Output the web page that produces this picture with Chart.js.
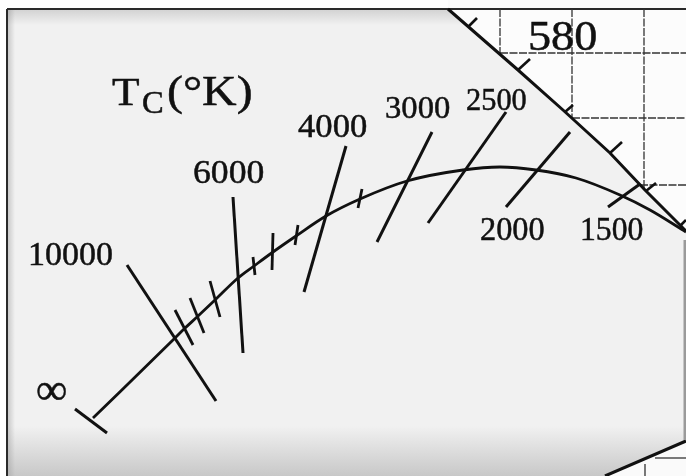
<!DOCTYPE html>
<html>
<head>
<meta charset="utf-8">
<script src="https://cdn.jsdelivr.net/npm/chart.js@4/dist/chart.umd.min.js"></script>
<style>
  html, body { margin: 0; padding: 0; background: #fff; }
  #wrap { width: 686px; height: 476px; position: relative; }
</style>
</head>
<body>
<div id="wrap"><canvas id="diagram"></canvas></div>
<script>
// ---- Diagram data (diagram units: x to the right, y upward) ----

// Planckian locus, from infinite temperature up to 1500 K and beyond
const locusX = [93, 175, 184, 197, 215, 238, 254, 273, 296, 326, 360, 407, 463, 500, 536, 576, 620, 650, 686];
const locusY = [58, 138, 147, 159, 176, 198, 210, 224, 240, 260, 277, 295, 306, 309, 306, 298, 281, 266, 244];

// End bar marking T = infinity
const infBarX = [75, 107];
const infBarY = [67, 43];

// Labelled isotemperature lines (colour temperature in K)
const isoTemps = ['10000', '6000', '4000', '3000', '2500', '2000', '1500'];
const isoX1 = [127, 233, 346, 432, 506, 570, 640];
const isoY1 = [211, 279, 330, 344, 364, 344, 292];
const isoX2 = [216, 243, 304, 377, 428, 506, 608];
const isoY2 = [75, 123, 184, 234, 253, 269, 269];

// Unlabelled intermediate temperature marks on the locus
const minorTemps = [9000, 8000, 7000, 5500, 5000, 4500, 3500];
const minorX1 = [175, 190, 210, 253, 273, 298, 362];
const minorY1 = [166, 178, 195, 219, 243, 251, 287];
const minorX2 = [193, 204, 220, 255, 272, 295, 358];
const minorY2 = [131, 143, 159, 201, 206, 231, 268];

// Spectrum locus segment around 580 nm, with its wavelength ticks
const spectrumX = [448, 518, 563, 610, 645, 686];
const spectrumY = [467, 406, 366, 323, 286, 245];
const spectrumLabel = '580';
const specTickX1 = [468, 518, 565, 610, 646, 681];
const specTickY1 = [449, 406, 364, 323, 285, 251];
const specTickX2 = [477, 530, 573, 622, 656, 686];
const specTickY2 = [458, 417, 371, 334, 293, 256];

// Coordinate grid outside the spectrum locus
const gridVX = [500, 572, 644];
const gridVLow = [423, 358, 287];
const gridHY = [423, 358, 291];
const gridHLeft = [500, 572, 640];

// Neighbouring boundary line at the lower right
const lowerEdgeX = [605, 686];
const lowerEdgeY = [0, 35];

// ---- Build datasets ----
const INK = '#111';
const pts = (xs, ys) => xs.map((x, i) => ({ x, y: ys[i] }));
const seg = (x1, y1, x2, y2, extra) => Object.assign({
  data: [{ x: x1, y: y1 }, { x: x2, y: y2 }],
  showLine: true, pointRadius: 0, borderColor: INK, borderWidth: 3, fill: false
}, extra || {});

const datasets = [];

// Planckian locus
datasets.push({
  label: 'Planckian locus',
  data: pts(locusX, locusY),
  showLine: true, pointRadius: 0, borderColor: INK, borderWidth: 2.8,
  cubicInterpolationMode: 'monotone', fill: false
});
datasets.push(seg(infBarX[0], infBarY[0], infBarX[1], infBarY[1]));

isoTemps.forEach((t, i) => datasets.push(seg(isoX1[i], isoY1[i], isoX2[i], isoY2[i], { label: t + ' K' })));
minorTemps.forEach((t, i) => datasets.push(seg(minorX1[i], minorY1[i], minorX2[i], minorY2[i], { label: t + ' K', borderWidth: 2.8 })));

// Spectrum locus (clean paper above it)
datasets.push({
  label: 'Spectrum locus',
  data: pts(spectrumX, spectrumY),
  showLine: true, pointRadius: 0, borderColor: INK, borderWidth: 3,
  tension: 0, fill: 'end', backgroundColor: '#fcfcfc'
});
specTickX1.forEach((x, i) => datasets.push(seg(x, specTickY1[i], specTickX2[i], specTickY2[i], { borderWidth: 2.6 })));

// Grid
const gridStyle = { borderColor: '#333', borderWidth: 1.3, borderDash: [8, 1.5] };
gridVX.forEach((x, i) => datasets.push(seg(x, 467, x, gridVLow[i], gridStyle)));
gridHY.forEach((y, i) => datasets.push(seg(gridHLeft[i], y, 686, y, gridStyle)));

// Frame
datasets.push(seg(7, 467, 686, 467, { borderColor: '#2a2a2a', borderWidth: 2 }));
datasets.push(seg(7, 467, 7, 0, { borderColor: '#2a2a2a', borderWidth: 2 }));
datasets.push(seg(685, 236, 685, 36, { borderColor: '#9a9a9a', borderWidth: 3 }));

// Lower right boundary and its neighbours
datasets.push({
  data: pts(lowerEdgeX, lowerEdgeY),
  showLine: true, pointRadius: 0, borderColor: INK, borderWidth: 3,
  fill: 'start', backgroundColor: '#fafafa'
});
datasets.push(seg(655, 18, 686, 18, { borderColor: '#333', borderWidth: 1.3 }));
datasets.push(seg(645, 12, 645, 0, { borderColor: '#333', borderWidth: 1.3 }));

// ---- Text placement (baseline-left anchor, diagram units) ----
const SERIF = '"Liberation Serif", "Times New Roman", serif';
const textItems = [
  { text: '\u221E', x: 36, y: 72, size: 44, sx: 1 },
  { text: isoTemps[0], x: 28, y: 211, size: 34, sx: 1 },
  { text: isoTemps[1], x: 193, y: 293, size: 34, sx: 1.05 },
  { text: isoTemps[2], x: 298, y: 339, size: 33, sx: 1.05 },
  { text: isoTemps[3], x: 385, y: 358, size: 32, sx: 1.02 },
  { text: isoTemps[4], x: 466, y: 366, size: 31, sx: 0.98 },
  { text: isoTemps[5], x: 480, y: 236, size: 33, sx: 0.98 },
  { text: isoTemps[6], x: 580, y: 236, size: 33, sx: 0.96 },
  { text: spectrumLabel, x: 528, y: 426, size: 42, sx: 1.1 },
  { text: 'T', x: 112, y: 371, size: 41, sx: 1.1 },
  { text: 'C', x: 142, y: 363, size: 31, sx: 1.05 },
  { text: '(\u00B0K)', x: 167, y: 371, size: 42, sx: 1.14 }
];

const paperPlugin = {
  id: 'paper',
  beforeDraw(chart) {
    const { ctx, scales: { x, y } } = chart;
    const W = chart.width, H = chart.height;
    const left = x.getPixelForValue(7), top = y.getPixelForValue(467);
    ctx.save();
    ctx.fillStyle = '#ffffff';
    ctx.fillRect(0, 0, W, H);
    ctx.fillStyle = '#f1f1f1';
    ctx.fillRect(left, top, W - left, H - top);
    let g = ctx.createLinearGradient(0, top, 0, top + 16);
    g.addColorStop(0, 'rgba(150,150,150,0.35)');
    g.addColorStop(1, 'rgba(150,150,150,0)');
    ctx.fillStyle = g;
    ctx.fillRect(left, top, W - left, 16);
    g = ctx.createLinearGradient(left, 0, left + 8, 0);
    g.addColorStop(0, 'rgba(130,130,130,0.4)');
    g.addColorStop(1, 'rgba(130,130,130,0)');
    ctx.fillStyle = g;
    ctx.fillRect(left, top, 8, H - top);
    const b0 = y.getPixelForValue(50);
    g = ctx.createLinearGradient(0, b0, 0, H);
    g.addColorStop(0, 'rgba(150,150,150,0)');
    g.addColorStop(1, 'rgba(150,150,150,0.45)');
    ctx.fillStyle = g;
    ctx.fillRect(left, b0, W - left, H - b0);
    ctx.restore();
  },
  afterDatasetsDraw(chart) {
    const { ctx, scales: { x, y } } = chart;
    ctx.save();
    ctx.fillStyle = INK;
    ctx.strokeStyle = INK;
    ctx.lineWidth = 0.5;
    ctx.textAlign = 'left';
    ctx.textBaseline = 'alphabetic';
    textItems.forEach(t => {
      ctx.save();
      ctx.translate(x.getPixelForValue(t.x), y.getPixelForValue(t.y));
      ctx.scale(t.sx, 1);
      ctx.font = t.size + 'px ' + SERIF;
      ctx.fillText(t.text, 0, 0);
      ctx.strokeText(t.text, 0, 0);
      ctx.restore();
    });
    ctx.restore();
  }
};

new Chart(document.getElementById('diagram'), {
  type: 'scatter',
  data: { datasets },
  options: {
    responsive: true,
    maintainAspectRatio: false,
    animation: false,
    events: [],
    layout: { padding: 0 },
    scales: {
      x: { type: 'linear', min: 0, max: 686, display: false },
      y: { type: 'linear', min: 0, max: 476, display: false }
    },
    plugins: {
      legend: { display: false },
      tooltip: { enabled: false },
      filler: { drawTime: 'beforeDatasetsDraw' }
    }
  },
  plugins: [paperPlugin]
});
</script>
</body>
</html>
